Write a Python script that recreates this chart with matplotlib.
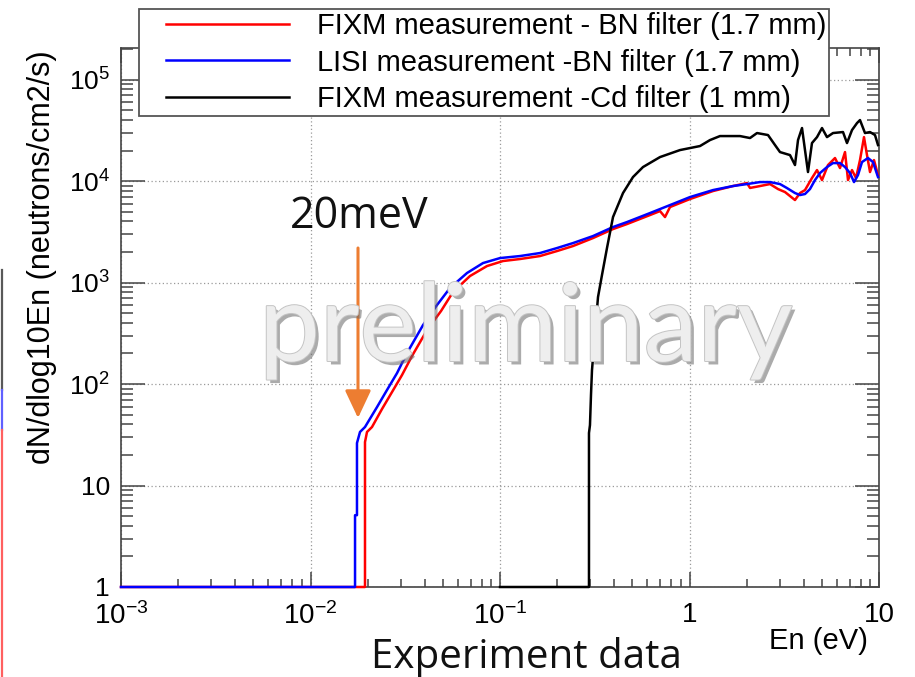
import matplotlib
matplotlib.use("Agg")
import matplotlib.pyplot as plt
from matplotlib import patheffects as pe
from matplotlib.legend_handler import HandlerLine2D
from matplotlib.lines import Line2D
from matplotlib.patches import FancyArrowPatch
from matplotlib.ticker import FixedLocator, FixedFormatter, LogLocator, NullFormatter

# ---- spectra: neutron energy (eV) and flux dN/dlog10En (neutrons/cm2/s) ----
E_fixm_bn = [1e-3, 0.01939, 0.01939, 0.01987, 0.02111, 0.02384, 0.02693, 0.0304, 0.03432,
             0.0412, 0.04884, 0.05649, 0.06944, 0.08539, 0.1037, 0.1275, 0.1626, 0.1999,
             0.2428, 0.3096, 0.3948, 0.468, 0.6188, 0.6988, 0.7426, 0.7892, 1.006, 1.33,
             1.697, 2.011, 2.086, 2.355, 2.659, 2.931, 3.192, 3.603, 3.829, 4.069, 4.429,
             4.708, 5.003, 5.381, 5.859, 6.226, 6.616, 6.862, 7.204, 7.563, 7.938, 8.333,
             8.643, 8.965, 9.41, 9.879]
flux_fixm_bn = [1, 1, 26.8, 33.7, 37.7, 56.7, 83.4, 122.6, 188.8, 340, 524, 806, 1159, 1454,
                1629, 1705, 1824, 2043, 2289, 2743, 3365, 3770, 4624, 5060, 4418, 5546, 6650,
                7970, 8930, 9550, 8550, 8930, 9340, 8340, 7790, 6500, 7620, 8150, 10710,
                12830, 10230, 14380, 16860, 13430, 19300, 10230, 12830, 10710, 16100, 27100,
                18030, 12270, 16100, 11460]

E_lisi_bn = [1e-3, 0.01718, 0.01718, 0.01759, 0.01759, 0.01825, 0.01939, 0.02244, 0.02533,
             0.02861, 0.0323, 0.03925, 0.0465, 0.05445, 0.06696, 0.08134, 0.1, 0.1275,
             0.1626, 0.1999, 0.2428, 0.3096, 0.3948, 0.468, 0.6188, 0.6988, 0.8385, 1.006,
             1.33, 1.697, 2.011, 2.355, 2.659, 3.003, 3.269, 3.603, 3.829, 4.069, 4.323,
             4.595, 4.882, 5.316, 5.719, 6.226, 6.616, 7.031, 7.382, 7.748, 8.135, 8.75,
             9.297, 9.879]
flux_lisi_bn = [1, 1, 5.1, 5.1, 26.2, 33.7, 37.7, 59.3, 87.3, 128, 202, 381, 600, 883, 1241,
                1556, 1742, 1824, 1953, 2187, 2449, 2871, 3522, 3945, 4838, 5297, 6067, 6955,
                8150, 8930, 9340, 9770, 9770, 9340, 8530, 7620, 7280, 7450, 8340, 10230,
                11990, 13740, 15040, 15040, 13740, 11990, 9770, 11460, 15390, 16860, 15390,
                10950]

E_fixm_cd = [0.1, 0.2948, 0.2948, 0.2984, 0.3021, 0.3058, 0.3172, 0.329, 0.3453, 0.3669,
             0.3948, 0.4458, 0.5033, 0.5683, 0.6988, 0.891, 1.136, 1.283, 1.448, 1.847, 2.086,
             2.271, 2.596, 2.826, 3.003, 3.391, 3.603, 3.738, 3.924, 4.069, 4.22, 4.429,
             4.708, 5.003, 5.316, 5.719, 6.457, 6.778, 7.204, 7.654, 7.938, 8.436, 8.965,
             9.526, 9.879]
flux_fixm_cd = [1, 1, 32.9, 39.4, 78, 137, 318, 719, 1186, 2187, 4418, 7620, 10950, 13740,
                17230, 20200, 22130, 25350, 27750, 27750, 26540, 29720, 28400, 22640, 19300,
                18030, 14380, 25350, 33300, 20200, 12270, 23680, 27100, 33300, 27100, 29720,
                30400, 23680, 31800, 37260, 39900, 29720, 30400, 28400, 22640]

series_labels = ["FIXM measurement - BN filter (1.7 mm)",
                 "LISI measurement -BN filter (1.7 mm)",
                 "FIXM measurement -Cd filter (1 mm)"]
series_colors = ["#ff0000", "#0000ff", "#000000"]

x_ticks = [1e-3, 1e-2, 1e-1, 1, 10]
x_tick_labels = [r"$10^{-3}$", r"$10^{-2}$", r"$10^{-1}$", "1", "10"]
y_ticks = [1, 10, 1e2, 1e3, 1e4, 1e5]
y_tick_labels = ["1", "10", r"$10^{2}$", r"$10^{3}$", r"$10^{4}$", r"$10^{5}$"]

plt.rcParams["font.family"] = ["Liberation Sans", "DejaVu Sans"]
plt.rcParams["mathtext.fontset"] = "custom"
plt.rcParams["mathtext.rm"] = "Liberation Sans"
plt.rcParams["mathtext.default"] = "regular"

W, H = 915, 677
fig = plt.figure(figsize=(W / 100, H / 100), dpi=100)
fig.patch.set_facecolor("white")
ax = fig.add_axes([121 / W, 1 - 587 / H, (879 - 121) / W, (587 - 47.5) / H])

ax.set_xscale("log")
ax.set_yscale("log")
ax.set_xlim(1e-3, 10)
ax.set_ylim(1, 2.07e5)

lines = []
for E, f, c in [(E_fixm_bn, flux_fixm_bn, series_colors[0]),
                (E_lisi_bn, flux_lisi_bn, series_colors[1]),
                (E_fixm_cd, flux_fixm_cd, series_colors[2])]:
    ln, = ax.plot(E, f, color=c, lw=1.8, clip_on=False, zorder=3)
    lines.append(ln)

ax.xaxis.set_major_locator(FixedLocator(x_ticks))
ax.xaxis.set_major_formatter(FixedFormatter(x_tick_labels))
ax.xaxis.set_minor_locator(LogLocator(base=10, subs=range(2, 10), numticks=50))
ax.xaxis.set_minor_formatter(NullFormatter())
ax.yaxis.set_major_locator(FixedLocator(y_ticks))
ax.yaxis.set_major_formatter(FixedFormatter(y_tick_labels))
ax.yaxis.set_minor_locator(LogLocator(base=10, subs=range(2, 10), numticks=50))
ax.yaxis.set_minor_formatter(NullFormatter())

ax.tick_params(which="both", direction="in", top=True, right=True,
               color="#444444", width=1.1)
ax.tick_params(axis="x", which="major", length=11, labelsize=20, pad=11)
ax.tick_params(axis="x", which="minor", length=6)
ax.tick_params(axis="y", which="major", length=17, labelsize=19, pad=8)
ax.tick_params(axis="y", which="minor", length=8.5)

ax.grid(True, which="major", linestyle=(0, (1, 2)), color="#9a9a9a", lw=0.9)
for s in ax.spines.values():
    s.set_color("#444444")
    s.set_linewidth(1.2)

fig.text(42 / W, 1 - 257 / H, "dN/dlog10En (neutrons/cm2/s)", rotation=90,
         ha="center", va="center", fontsize=22)
fig.text(868 / W, 1 - 641 / H, "En (eV)", ha="right", va="center", fontsize=21)

fs_legend = 21
fs_px = fs_legend * 100 / 72
leg = ax.legend(lines, series_labels, loc="upper left",
                bbox_to_anchor=(139 / W, 1 - 9 / H), bbox_transform=fig.transFigure,
                frameon=True, fancybox=False, edgecolor="#555555", framealpha=1,
                fontsize=fs_legend, handlelength=(290 - 143) / fs_px,
                handletextpad=(318 - 290) / fs_px, labelspacing=0.3,
                borderpad=0.1, borderaxespad=0,
                handler_map={Line2D: HandlerLine2D(xpad=24 / fs_px)})
leg.get_frame().set_linewidth(1.3)
leg.set_zorder(20)

# slide annotations
fig.text(290 / W, 1 - 228 / H, "20meV", ha="left", va="baseline", fontsize=31,
         family="Open Sans", color="#111111")
fig.add_artist(FancyArrowPatch((358 / W, 1 - 248 / H), (358 / W, 1 - 418 / H),
                               transform=fig.transFigure,
                               arrowstyle="-|>,head_width=0.4,head_length=0.85",
                               mutation_scale=20, color="#ED7D31", lw=2.2,
                               shrinkA=0, shrinkB=0))
fig.text(526 / W, 1 - 361 / H, "preliminary", ha="center", va="baseline", fontsize=78,
         family="Lato", color="#eeeeee", zorder=10,
         path_effects=[pe.SimplePatchShadow(offset=(2.5, -2.5), shadow_rgbFace="#666666",
                                            alpha=0.55),
                       pe.Stroke(linewidth=1.4, foreground="#c4c4c4"),
                       pe.Normal()])
fig.text(526 / W, 1 - 668 / H, "Experiment data", ha="center", va="baseline",
         fontsize=29, family="Open Sans", color="#111111")

# coloured edge strip at the left border
for (y0, y1), c in [((270, 390), "#595959"), ((390, 430), "#6060ff"),
                    ((430, 677), "#ff6060")]:
    fig.add_artist(Line2D([1.5 / W, 1.5 / W], [1 - y0 / H, 1 - y1 / H], color=c,
                          lw=1.6, transform=fig.transFigure))

fig.savefig("out.png", dpi=100)
